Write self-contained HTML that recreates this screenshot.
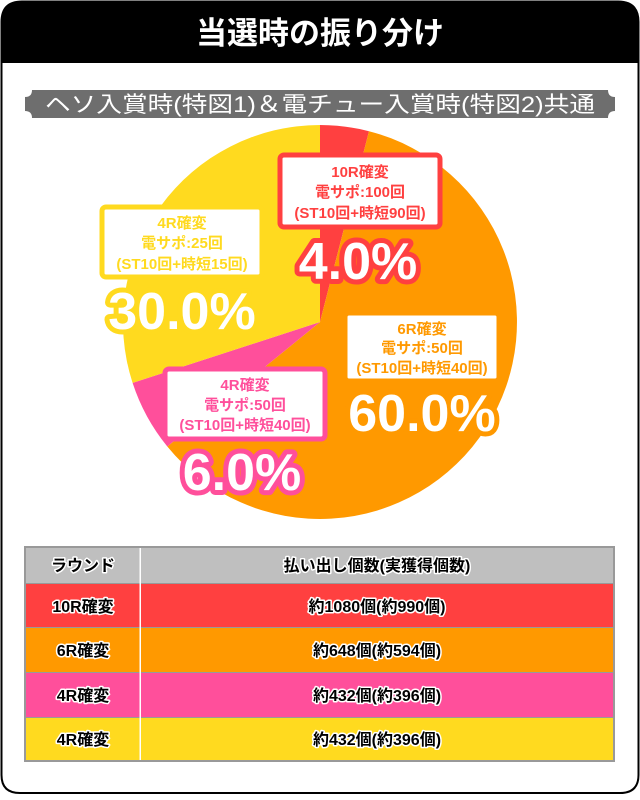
<!DOCTYPE html>
<html><head><meta charset="utf-8"><style>
body{margin:0;background:#fff}
svg text{font-family:"Liberation Sans","Noto Sans CJK JP",sans-serif;font-weight:bold}
</style></head><body>
<svg width="640" height="795" viewBox="0 0 640 795" xmlns="http://www.w3.org/2000/svg">
<path d="M1.5,22 Q1.5,1.5 22,1.5 L618,1.5 Q638.5,1.5 638.5,22 L638.5,775 Q638.5,793 620,793 L20,793 Q1.5,793 1.5,775 Z" fill="#fff" stroke="#000" stroke-width="2"/>
<path d="M1,22 Q1,1 22,1 L618,1 Q639,1 639,22 L639,63 L1,63 Z" fill="#000"/>
<text x="320" y="44" font-size="31" fill="#fff" text-anchor="middle">当選時の振り分け</text>
<path d="M32,90 L608,90 Q608,97 615,97 L615,111 Q608,111 608,118 L32,118 Q32,111 25,111 L25,97 Q32,97 32,90 Z" fill="#6e6e6e"/>
<text x="320" y="112" font-size="22" fill="#fff" text-anchor="middle" style="font-weight:normal" textLength="550" lengthAdjust="spacingAndGlyphs">ヘソ入賞時(特図1)＆電チュー入賞時(特図2)共通</text>
<g transform="translate(320,322)">
<path d="M0,0 L0,-197 A197,197 0 0 1 49,-190.8 Z" fill="#ff4040"/>
<path d="M0,0 L49,-190.8 A197,197 0 1 1 -152.7,124.5 Z" fill="#ff9900"/>
<path d="M0,0 L-152.7,124.5 A197,197 0 0 1 -187.4,60.9 Z" fill="#ff4f9b"/>
<path d="M0,0 L-187.4,60.9 A197,197 0 0 1 0,-197 Z" fill="#ffda1f"/>
</g>
<g text-anchor="middle">
<rect x="280" y="155" width="160" height="72" rx="4" fill="#fff" stroke="#ff4040" stroke-width="5"/>
<text x="360" y="177" font-size="15" fill="#ff4040">10R確変</text>
<text x="360" y="197" font-size="15" fill="#ff4040">電サポ:100回</text>
<text x="360" y="218" font-size="15" fill="#ff4040">(ST10回+時短90回)</text>
<text x="358" y="279" font-size="52" fill="#fff" stroke="#ff4040" stroke-width="10" paint-order="stroke" stroke-linejoin="round">4.0%</text>

<rect x="102" y="207" width="160" height="70" rx="4" fill="#fff" stroke="#ffda1f" stroke-width="5"/>
<text x="182" y="228" font-size="15" fill="#ffda1f">4R確変</text>
<text x="182" y="248" font-size="15" fill="#ffda1f">電サポ:25回</text>
<text x="182" y="269" font-size="15" fill="#ffda1f">(ST10回+時短15回)</text>
<text x="182" y="329" font-size="52" fill="#fff" stroke="#ffda1f" stroke-width="10" paint-order="stroke" stroke-linejoin="round">30.0%</text>

<rect x="345" y="313" width="154" height="68" rx="4" fill="#fff" stroke="#ff9900" stroke-width="5"/>
<text x="422" y="334" font-size="15" fill="#ff9900">6R確変</text>
<text x="422" y="353" font-size="15" fill="#ff9900">電サポ:50回</text>
<text x="422" y="373" font-size="15" fill="#ff9900">(ST10回+時短40回)</text>
<text x="422" y="431" font-size="52" fill="#fff" stroke="#ff9900" stroke-width="10" paint-order="stroke" stroke-linejoin="round">60.0%</text>

<rect x="165" y="369" width="160" height="70" rx="4" fill="#fff" stroke="#ff4f9b" stroke-width="5"/>
<text x="245" y="390" font-size="15" fill="#ff4f9b">4R確変</text>
<text x="245" y="410" font-size="15" fill="#ff4f9b">電サポ:50回</text>
<text x="245" y="430" font-size="15" fill="#ff4f9b">(ST10回+時短40回)</text>
<text x="242" y="490" font-size="52" fill="#fff" stroke="#ff4f9b" stroke-width="10" paint-order="stroke" stroke-linejoin="round">6.0%</text>
</g>
<rect x="24" y="546" width="591" height="216" fill="#999"/>
<rect x="26" y="548" width="587" height="35" fill="#bfbfbf"/>
<rect x="26" y="584" width="587" height="43" fill="#ff4040"/>
<rect x="26" y="628" width="587" height="44" fill="#ff9900"/>
<rect x="26" y="673" width="587" height="44" fill="#ff4f9b"/>
<rect x="26" y="718" width="587" height="42" fill="#ffda1f"/>
<rect x="139.5" y="548" width="1.5" height="212" fill="#fff"/>
<g text-anchor="middle" font-size="16" fill="#000" stroke="#fff" stroke-width="3" paint-order="stroke" stroke-linejoin="round">
<text x="83" y="571">ラウンド</text>
<text x="377" y="571">払い出し個数(実獲得個数)</text>
<text x="83" y="612">10R確変</text>
<text x="377" y="612">約1080個(約990個)</text>
<text x="83" y="656">6R確変</text>
<text x="377" y="656">約648個(約594個)</text>
<text x="83" y="701">4R確変</text>
<text x="377" y="701">約432個(約396個)</text>
<text x="83" y="745">4R確変</text>
<text x="377" y="745">約432個(約396個)</text>
</g>
</svg>
</body></html>
